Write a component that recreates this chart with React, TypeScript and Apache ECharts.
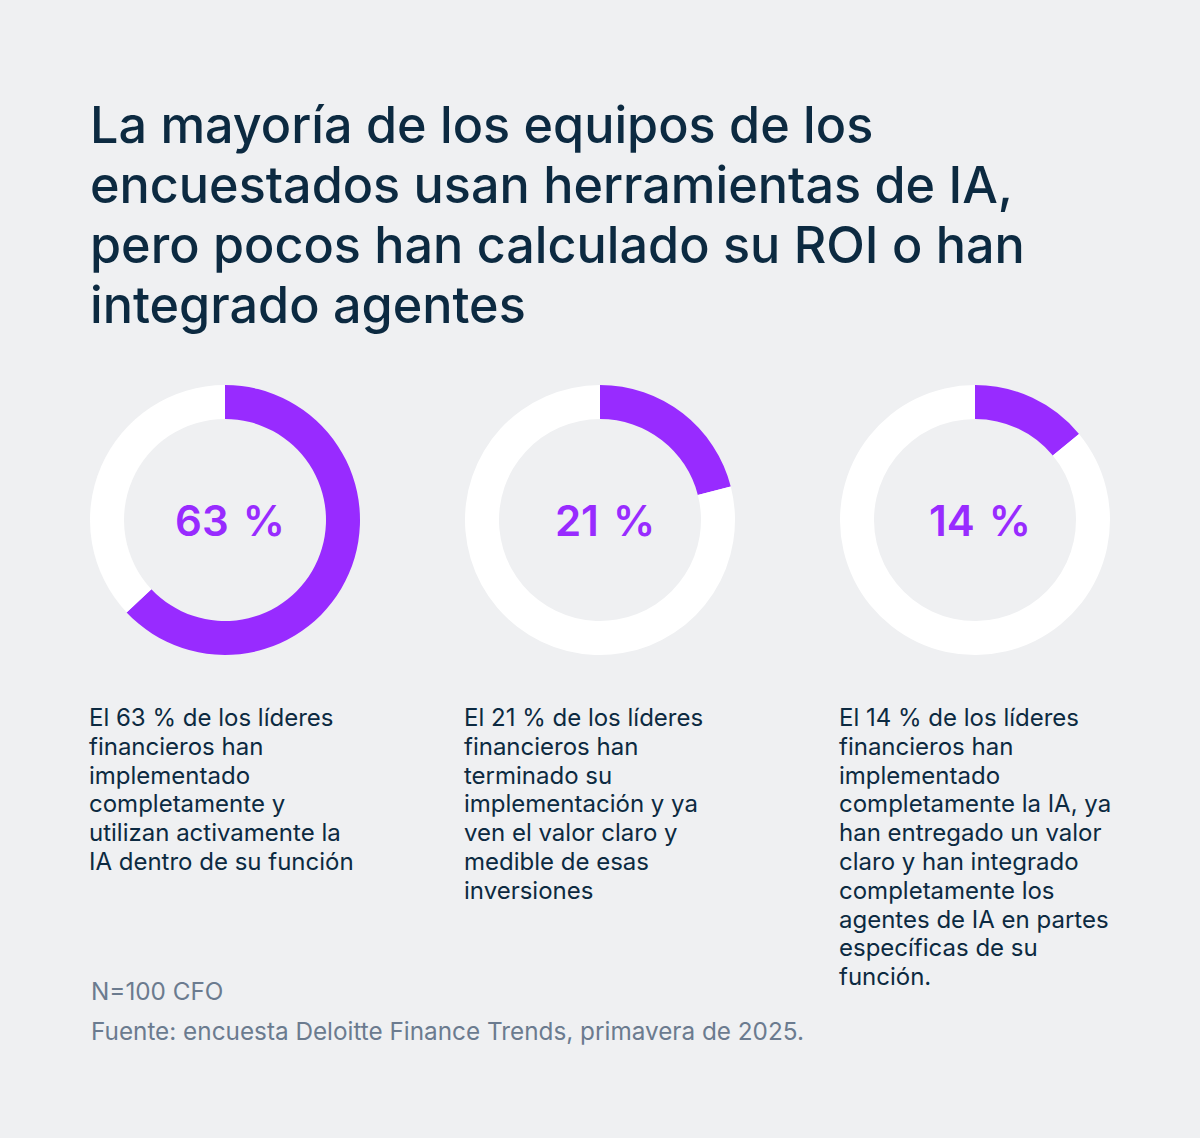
import React, { useEffect, useRef } from "react";
import * as echarts from "echarts";

const titleLines = [
  "La mayoría de los equipos de los",
  "encuestados usan herramientas de IA,",
  "pero pocos han calculado su ROI o han",
  "integrado agentes",
];
const values = [63, 21, 14];
const centerLabels = ["63 %", "21 %", "14 %"];
const descriptions = [
  [
    "El 63 % de los líderes",
    "financieros han",
    "implementado",
    "completamente y",
    "utilizan activamente la",
    "IA dentro de su función",
  ],
  [
    "El 21 % de los líderes",
    "financieros han",
    "terminado su",
    "implementación y ya",
    "ven el valor claro y",
    "medible de esas",
    "inversiones",
  ],
  [
    "El 14 % de los líderes",
    "financieros han",
    "implementado",
    "completamente la IA, ya",
    "han entregado un valor",
    "claro y han integrado",
    "completamente los",
    "agentes de IA en partes",
    "específicas de su",
    "función.",
  ],
];
const footnotes = ["N=100 CFO", "Fuente: encuesta Deloitte Finance Trends, primavera de 2025."];

const PURPLE = "#982bff";
const NAVY = "#0c2a41";
const GREY = "#6b7b8f";
const FONT = "Inter, 'Noto Sans', sans-serif";

export default function App() {
  const ref = useRef<HTMLDivElement>(null);
  useEffect(() => {
    document.body.style.margin = "0";
    const chart = echarts.init(ref.current!, null, { renderer: "svg" });
    const centersX = [225, 600, 975];
    const series = values.map((v, i) => ({
      type: "pie",
      silent: true,
      center: [centersX[i], 520],
      radius: [101, 135],
      startAngle: 90,
      clockwise: true,
      avoidLabelOverlap: false,
      labelLine: { show: false },
      data: [
        {
          value: v,
          name: centerLabels[i],
          itemStyle: { color: PURPLE },
          label: {
            show: true,
            position: "center",
            formatter: centerLabels[i].replace(" ", " \u200A"),
            color: PURPLE,
            fontSize: 42,
            fontWeight: 600,
            fontFamily: FONT,
            offset: [5, 0],
          },
        },
        { value: 100 - v, name: "rest", itemStyle: { color: "#ffffff" }, label: { show: false } },
      ],
    }));
    const graphics: any[] = [];
    descriptions.forEach((lines, i) => {
      graphics.push({
        type: "text",
        left: [89, 464, 839][i],
        top: 703,
        style: {
          text: lines.join("\n"),
          fill: NAVY,
          fontSize: 24,
          lineHeight: 28.8,
          fontFamily: FONT,
        },
      });
    });
    footnotes.forEach((t, i) => {
      graphics.push({
        type: "text",
        left: 91,
        top: [979, 1019][i],
        style: { text: t, fill: GREY, fontSize: 24.3, fontFamily: FONT },
      });
    });
    chart.setOption({
      animation: false,
      backgroundColor: "#eff0f2",
      title: {
        text: titleLines.join("\n"),
        left: 85,
        top: 89,
        textStyle: {
          color: NAVY,
          fontSize: 50.3,
          fontWeight: 500,
          lineHeight: 60,
          fontFamily: FONT,
        },
      },
      series,
      graphic: graphics,
    });
    return () => chart.dispose();
  }, []);
  return <div ref={ref} style={{ width: 1200, height: 1138 }} />;
}
